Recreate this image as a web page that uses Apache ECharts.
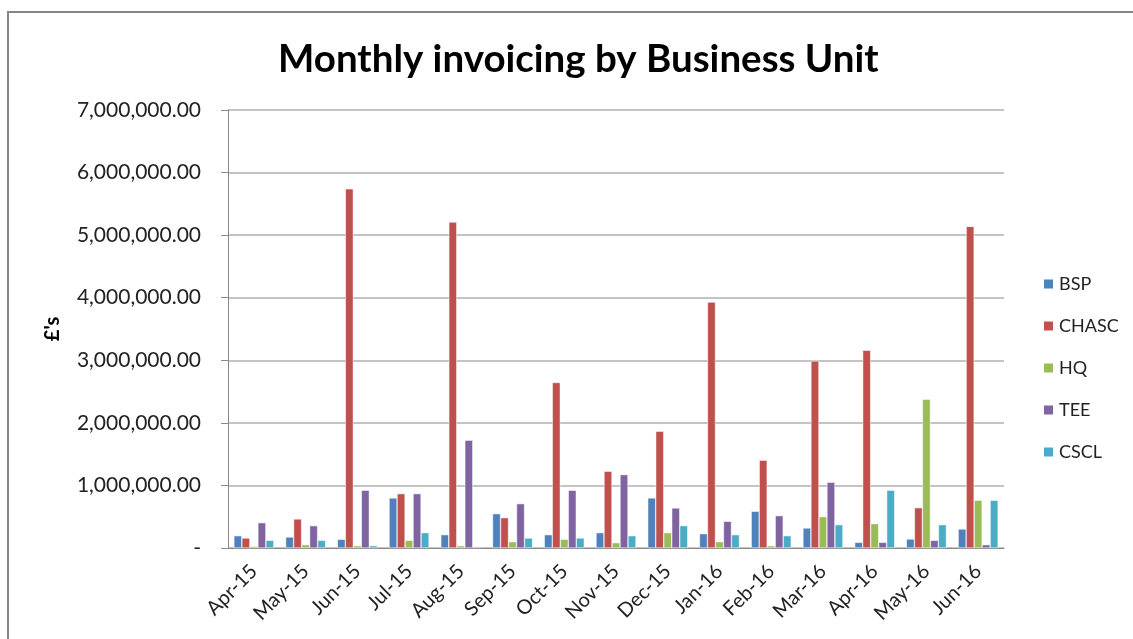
<!DOCTYPE html>
<html>
<head>
<meta charset="utf-8">
<script src="https://cdn.jsdelivr.net/npm/echarts@6/dist/echarts.min.js"></script>
<style>
  html, body { margin: 0; padding: 0; background: #fff; overflow: hidden; }
  #chart { width: 1133px; height: 639px; }
</style>
</head>
<body>
<div id="chart"></div>
<script>
const months = ['Apr-15', 'May-15', 'Jun-15', 'Jul-15', 'Aug-15', 'Sep-15', 'Oct-15', 'Nov-15',
  'Dec-15', 'Jan-16', 'Feb-16', 'Mar-16', 'Apr-16', 'May-16', 'Jun-16']
const bsp   = [197000, 176000, 139000, 800000, 213000, 549000, 213000, 245000, 800000, 229000, 587000, 320000, 91000, 144000, 304000]
const chasc = [160000, 464000, 5740000, 869000, 5210000, 485000, 2645000, 1227000, 1867000, 3930000, 1403000, 2990000, 3160000, 645000, 5140000]
const hq    = [27000, 53000, 37000, 123000, 37000, 101000, 139000, 85000, 245000, 101000, 37000, 501000, 389000, 2379000, 763000]
const tee   = [405000, 357000, 923000, 869000, 1723000, 709000, 923000, 1173000, 640000, 427000, 517000, 1051000, 91000, 123000, 53000]
const cscl  = [123000, 123000, 37000, 245000, 21000, 160000, 160000, 197000, 357000, 213000, 197000, 373000, 923000, 373000, 763000]

const seriesNames = ['BSP', 'CHASC', 'HQ', 'TEE', 'CSCL']
const seriesData = [bsp, chasc, hq, tee, cscl]
const colors = ['#4F81BD', '#C0504D', '#9BBB59', '#8064A2', '#4BACC6']

const font = 'Lato, "Liberation Sans", sans-serif'
const chart = echarts.init(document.getElementById('chart'))

const option = {
  color: colors,
  animation: false,
  textStyle: { fontFamily: font },
  title: {
    text: 'Monthly invoicing by Business Unit',
    left: 273,
    top: 35,
    textStyle: { fontFamily: font, fontWeight: 'bold', fontSize: 38.5, color: '#000' }
  },
  legend: {
    orient: 'vertical',
    left: 1037,
    top: 270,
    itemWidth: 11,
    itemHeight: 11,
    itemGap: 24,
    icon: 'rect',
    textStyle: { fontFamily: font, fontSize: 18, color: '#222' },
    data: seriesNames
  },
  grid: { left: 228, top: 110, width: 776, height: 438 },
  graphic: [{
    type: 'rect',
    shape: { x: 8, y: 12, width: 1200, height: 700 },
    style: { fill: 'none', stroke: '#878787', lineWidth: 2 },
    silent: true
  }],
  xAxis: {
    type: 'category',
    data: months,
    axisLine: { lineStyle: { color: '#8a8a8a', width: 1 } },
    axisTick: { length: 6, lineStyle: { color: '#8a8a8a' } },
    axisLabel: { rotate: 45, fontSize: 20, color: '#222', margin: 20, fontFamily: font }
  },
  yAxis: {
    type: 'value',
    min: 0,
    max: 7000000,
    interval: 1000000,
    name: "£'s",
    nameLocation: 'middle',
    nameGap: 165,
    nameTextStyle: { fontSize: 20, fontWeight: 'bold', color: '#000', fontFamily: font },
    axisLine: { show: true, lineStyle: { color: '#8a8a8a' } },
    axisTick: { show: true, length: 7, lineStyle: { color: '#8a8a8a' } },
    splitLine: { lineStyle: { color: '#b0b0b0', width: 1.5 } },
    axisLabel: {
      fontSize: 21,
      color: '#222',
      margin: 27,
      fontFamily: font,
      formatter: v => v === 0 ? '-' : v.toLocaleString('en-GB', { minimumFractionDigits: 2, maximumFractionDigits: 2 })
    }
  },
  series: seriesNames.map((name, i) => ({
    name: name,
    type: 'bar',
    data: seriesData[i],
    barWidth: 8,
    barGap: '0%',
    itemStyle: { borderColor: '#fff', borderWidth: 0.5 }
  }))
}

chart.setOption(option)
</script>
</body>
</html>
